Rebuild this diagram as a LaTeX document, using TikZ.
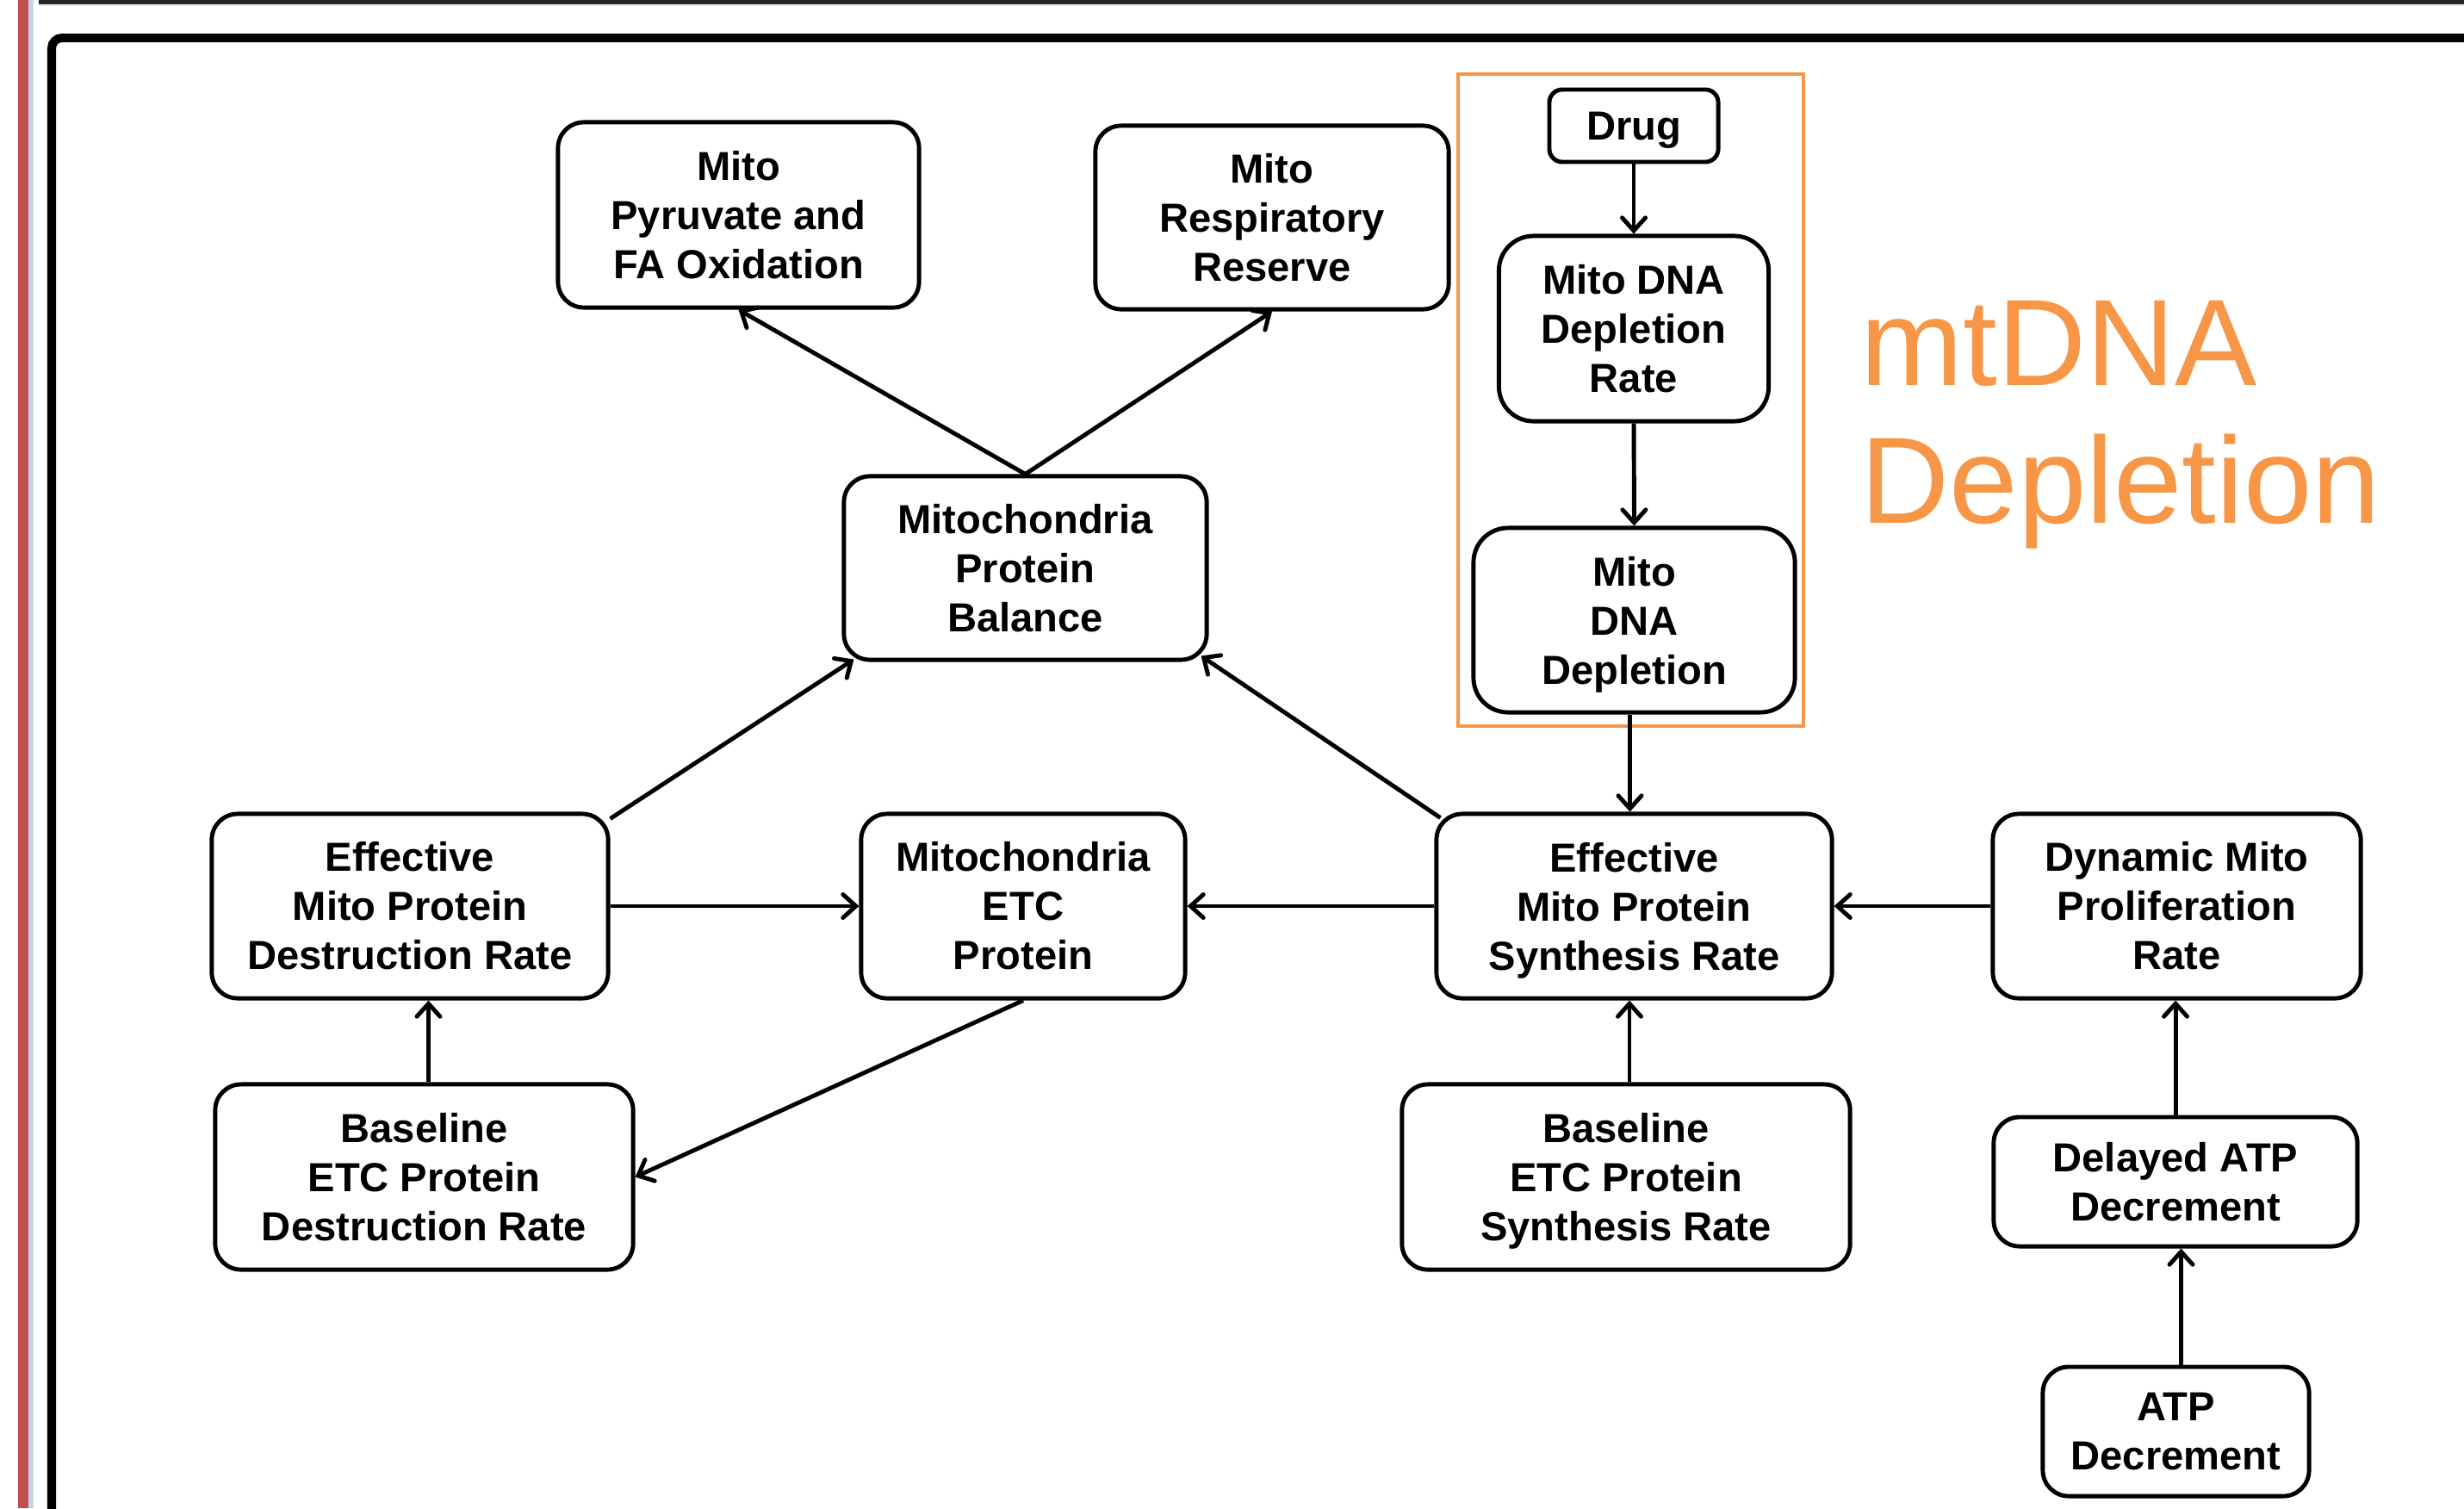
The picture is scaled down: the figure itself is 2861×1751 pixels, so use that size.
\documentclass[tikz,border=0pt]{standalone}
\usepackage{fontspec}
\setmainfont{Liberation Sans}
\usetikzlibrary{arrows.meta,calc}
\definecolor{mtorange}{HTML}{F79646}
\definecolor{edgered}{HTML}{C0504D}
\definecolor{edgeblue}{HTML}{C3D7E7}
\newcommand{\nodesc}[1]{\raisebox{0pt}[\height][0pt]{#1}}
\begin{document}
\begin{tikzpicture}[x=0.01cm,y=-0.01cm,
  box/.style={draw, line width=1.4pt, rounded corners=0.3cm, align=center,
    font=\bfseries\fontsize{13.4}{16.2}\selectfont, inner sep=0pt},
  arr/.style={line width=1.4pt, -{Straight Barb[length=0.15cm,width=0.27cm,line width=1.4pt,line cap=round]}}]
\useasboundingbox (0,0) rectangle (2861,1751);
\fill[white] (0,0) rectangle (2861,1751);
% page edges
\fill[edgered] (21,0) rectangle (33,1751);
\fill[edgeblue] (33,0) rectangle (39,1751);
\fill[black!85] (45,0) rectangle (2861,5);
\fill[black!8] (45,5) rectangle (2861,7);
\draw[line width=0.1cm, rounded corners=0.12cm] (60,1760) -- (60,44) -- (2870,44);
% nodes
\node[box, minimum width=4.19cm, minimum height=2.15cm] (pyr) at (857.5,249.5) {Mito\\Pyruvate and\\FA Oxidation};
\node[box, minimum width=4.10cm, minimum height=2.13cm] (res) at (1477,252.5) {Mito\\Respiratory\\Reserve};
\node[box, rounded corners=0.15cm, minimum width=1.96cm, minimum height=0.84cm] (drug) at (1897,146) {\nodesc{Drug}};
\node[box, minimum width=3.13cm, minimum height=2.15cm, rounded corners=0.4cm] (rate) at (1897,381.5) {Mito DNA\\Depletion\\Rate};
\node[box, minimum width=3.73cm, minimum height=2.14cm, rounded corners=0.4cm] (dep) at (1897.5,720) {Mito\\DNA\\\nodesc{Depletion}};
\node[draw=mtorange, line width=1.1pt, minimum width=4.01cm, minimum height=7.57cm, inner sep=0pt] (obox) at (1893.5,464.5) {};
\node[box, minimum width=4.21cm, minimum height=2.13cm] (bal) at (1190.5,659.5) {Mitochondria\\Protein\\Balance};
\node[box, minimum width=4.60cm, minimum height=2.14cm] (edr) at (476,1052) {Effective\\Mito Protein\\Destruction Rate};
\node[box, minimum width=3.76cm, minimum height=2.14cm] (etc) at (1188,1052) {Mitochondria\\ETC\\Protein};
\node[box, minimum width=4.59cm, minimum height=2.14cm] (esr) at (1897.5,1052) {Effective\\Mito Protein\\\nodesc{Synthesis Rate}};
\node[box, minimum width=4.27cm, minimum height=2.14cm] (dyn) at (2527.5,1052) {Dynamic Mito\\Proliferation\\Rate};
\node[box, minimum width=4.85cm, minimum height=2.15cm] (bdr) at (492.5,1366.5) {Baseline\\ETC Protein\\Destruction Rate};
\node[box, minimum width=5.20cm, minimum height=2.15cm] (bsr) at (1888,1366.5) {Baseline\\ETC Protein\\\nodesc{Synthesis Rate}};
\node[box, minimum width=4.22cm, minimum height=1.50cm] (dad) at (2526,1372) {Delayed ATP\\Decrement};
\node[box, minimum width=3.09cm, minimum height=1.50cm] (atp) at (2526.5,1662) {ATP\\Decrement};
\node[text=mtorange, font=\fontsize{40.6}{40}\selectfont, anchor=base west, inner sep=0pt] (mt1) at (2160,447) {mtDNA};
\node[text=mtorange, font=\fontsize{40.6}{40}\selectfont, anchor=base west, inner sep=0pt] (mt2) at (2160,607) {Depletion};
% connectors
\draw[arr] (bal.north) -- (pyr.south);
\draw[arr] (bal.north) -- (res.south);
\draw[arr] (drug.south) -- (rate.north);
\draw[arr] (rate.south) -- (dep.north);
\draw[arr] ([xshift=-0.05cm]dep.south) -- ([xshift=-0.05cm]dep.south |- esr.north);
\draw[arr] ([yshift=-0.08cm]edr.north east) -- ([xshift=0.14cm,yshift=0.03cm]bal.south west);
\draw[arr] ([xshift=0.07cm,yshift=-0.07cm]esr.north west) -- ([xshift=-0.09cm,yshift=0.07cm]bal.south east);
\draw[arr] (edr.east) -- (etc.west);
\draw[arr] (esr.west) -- (etc.east);
\draw[arr] (dyn.west) -- (esr.east);
\draw[arr] ([xshift=0.05cm]bdr.north) -- ([xshift=0.05cm]bdr.north |- edr.south);
\draw[arr] (etc.south) -- (bdr.east);
\draw[arr] ([xshift=0.04cm]bsr.north) -- ([xshift=0.04cm]bsr.north |- esr.south);
\draw[arr] (dad.north) -- (dad.north |- dyn.south);
\draw[arr] ([xshift=0.06cm]atp.north) -- ([xshift=0.06cm]atp.north |- dad.south);
\end{tikzpicture}
\end{document}
